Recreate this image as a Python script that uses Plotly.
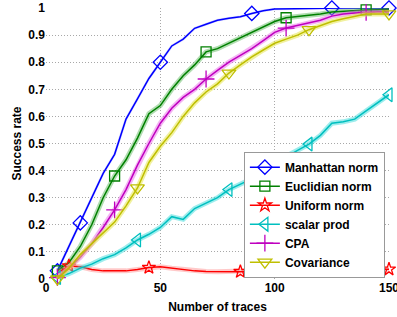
import plotly.graph_objects as go

traces = list(range(5, 155, 5))

manhattan = [0.03, 0.12, 0.207, 0.30, 0.39, 0.46, 0.59, 0.665, 0.74, 0.80,
             0.86, 0.885, 0.925, 0.94, 0.955, 0.962, 0.968, 0.98, 0.99, 0.996,
             0.997, 0.998, 0.998, 0.999, 1.0, 1.0, 1.0, 1.0, 1.0, 1.0]
euclidian = [0.03, 0.06, 0.12, 0.20, 0.30, 0.38, 0.44, 0.52, 0.61, 0.64,
             0.70, 0.75, 0.79, 0.838, 0.85, 0.87, 0.89, 0.91, 0.93, 0.95,
             0.964, 0.968, 0.972, 0.978, 0.985, 0.988, 0.99, 0.993, 0.994, 0.995]
uniform = [0.022, 0.048, 0.045, 0.035, 0.03, 0.03, 0.03, 0.035, 0.042, 0.045,
           0.04, 0.035, 0.03, 0.028, 0.027, 0.027, 0.027, 0.03, 0.032, 0.033,
           0.033, 0.034, 0.034, 0.035, 0.035, 0.035, 0.036, 0.036, 0.036, 0.036]
scalar = [0.005, 0.02, 0.04, 0.055, 0.075, 0.09, 0.115, 0.144, 0.165, 0.19,
          0.23, 0.22, 0.26, 0.28, 0.30, 0.33, 0.35, 0.37, 0.39, 0.43,
          0.45, 0.475, 0.498, 0.53, 0.575, 0.58, 0.59, 0.62, 0.65, 0.68]
cpa = [0.005, 0.04, 0.08, 0.13, 0.19, 0.255, 0.33, 0.42, 0.50, 0.575,
       0.63, 0.67, 0.70, 0.738, 0.77, 0.80, 0.825, 0.85, 0.88, 0.91,
       0.926, 0.935, 0.945, 0.955, 0.97, 0.978, 0.982, 0.984, 0.985, 0.985]
covariance = [0.0, 0.04, 0.09, 0.13, 0.17, 0.21, 0.27, 0.336, 0.43, 0.49,
              0.54, 0.60, 0.65, 0.69, 0.72, 0.76, 0.79, 0.82, 0.845, 0.87,
              0.885, 0.90, 0.92, 0.935, 0.95, 0.96, 0.97, 0.978, 0.978, 0.978]

x_ticks = [0, 50, 100, 150]
y_ticks = [0, 0.1, 0.2, 0.3, 0.4, 0.5, 0.6, 0.7, 0.8, 0.9, 1]
y_labels = ["0", "0.1", "0.2", "0.3", "0.4", "0.5", "0.6", "0.7", "0.8", "0.9", "1"]

series = [
    ("Manhattan norm", manhattan, "#0000ff", "rgba(120,120,255,0.3)", "diamond-open", [5, 15, 50, 90, 125, 150], 11),
    ("Euclidian norm", euclidian, "#008000", "rgba(60,170,60,0.4)", "square-open", [5, 30, 70, 105, 140], 10),
    ("Uniform norm", uniform, "#ff0000", "rgba(255,120,120,0.4)", "star-open", [10, 45, 85, 150], 10),
    ("scalar prod", scalar, "#00bfbf", "rgba(60,220,220,0.5)", "triangle-left-open", [5, 40, 80, 115, 150], 12),
    ("CPA", cpa, "#bf00bf", "rgba(230,90,230,0.45)", "cross-thin-open", [5, 30, 70, 105, 140], 12),
    ("Covariance", covariance, "#bfbf00", "rgba(230,230,80,0.55)", "triangle-down-open", [5, 40, 80, 115, 150], 12),
]

fig = go.Figure()
for name, vals, col, halo, sym, mk, msz in series:
    hw = 2.5 if name == "Manhattan norm" else 5
    fig.add_trace(go.Scatter(x=traces, y=vals, mode="lines",
                             line=dict(color=halo, width=hw), showlegend=False,
                             hoverinfo="skip"))
    fig.add_trace(go.Scatter(x=traces, y=vals, mode="lines",
                             line=dict(color=col, width=1.5), showlegend=False))
    mx = [x for x in traces if x in mk]
    my = [v for x, v in zip(traces, vals) if x in mk]
    fig.add_trace(go.Scatter(x=mx, y=my, mode="markers", showlegend=False,
                             cliponaxis=False,
                             marker=dict(symbol=sym, size=msz, color=col,
                                         line=dict(color=col, width=1.3))))
    fig.add_trace(go.Scatter(x=[None], y=[None], mode="lines+markers", name=name,
                             line=dict(color=col, width=1.5),
                             marker=dict(symbol=sym, size=msz, color=col,
                                         line=dict(color=col, width=1.3))))

bold12 = dict(family="Liberation Sans, Arial, sans-serif", size=12, color="black", weight="bold")

fig.update_layout(
    width=397, height=317,
    margin=dict(l=46, r=8, t=8, b=38),
    paper_bgcolor="white", plot_bgcolor="white",
    font=dict(family="Liberation Sans, Arial, sans-serif", size=12, color="black"),
    xaxis=dict(range=[0, 150], tickvals=x_ticks, automargin=False,
               ticklabeloverflow="allow",
               showgrid=True, gridcolor="#a8a8a8", griddash="1px,2px", gridwidth=1,
               zeroline=False, showline=False, ticks="",
               tickfont=bold12,
               title=dict(text="Number of traces", standoff=8, font=bold12)),
    yaxis=dict(range=[0, 1], tickvals=y_ticks, ticktext=y_labels, automargin=False,
               ticklabeloverflow="allow",
               showgrid=True, gridcolor="#a8a8a8", griddash="1px,2px", gridwidth=1,
               zeroline=False, showline=False, ticks="",
               tickfont=bold12,
               title=dict(text="Success rate", standoff=4, font=bold12)),
    legend=dict(x=0.988, y=0.005, xanchor="right", yanchor="bottom",
                bgcolor="white", bordercolor="#999999", borderwidth=1,
                font=bold12, itemwidth=30, tracegroupgap=0),
)

fig.write_html("out.html", config={"displayModeBar": False},
               post_script="document.body.style.margin='0px';")
